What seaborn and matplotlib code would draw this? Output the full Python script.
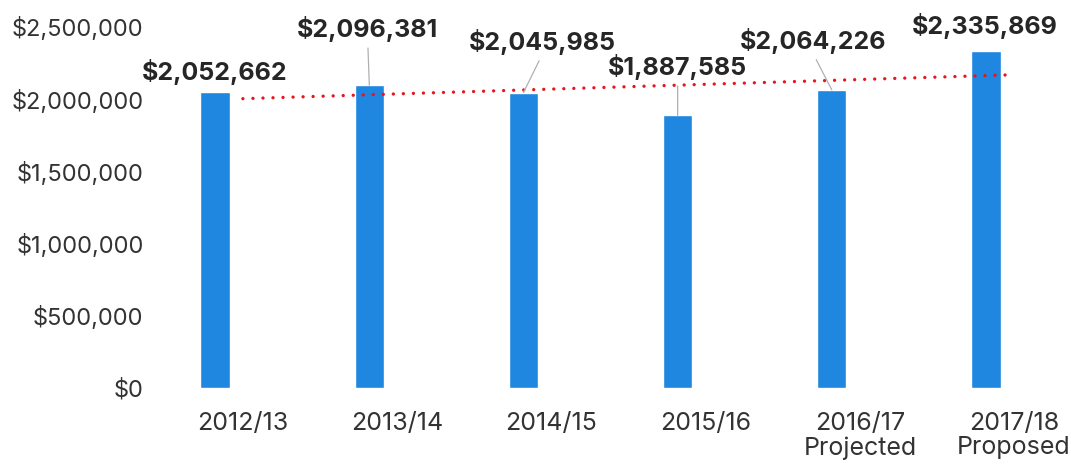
import numpy as np
import pandas as pd
import matplotlib
matplotlib.use("Agg")
import matplotlib.pyplot as plt
import matplotlib.transforms as mtransforms
import seaborn as sns

# Annual totals
years = ["2012/13", "2013/14", "2014/15", "2015/16", "2016/17\nProjected", "2017/18\nProposed"]
totals = [2052662, 2096381, 2045985, 1887585, 2064226, 2335869]
y_ticks = [0, 500000, 1000000, 1500000, 2000000, 2500000]

# Label placement: (x offset in category units, y position in data units), leader on/off
label_dx = [0.0, -0.01, 0.12, 0.0, -0.12, -0.01]
label_y = [2188000, 2486000, 2396000, 2223000, 2403000, 2507000]
leader = [False, True, True, True, True, False]

sns.set_theme(style="white")
plt.rcParams["font.family"] = ["Inter", "DejaVu Sans"]

df = pd.DataFrame({"year": years, "total": totals})

fig = plt.figure(figsize=(10.71, 4.66), dpi=100)
ax = fig.add_axes([0.1289, 0.1674, 0.8637, 0.7747])

sns.barplot(data=df, x="year", y="total", color="#1f87e0", saturation=1,
            width=0.19, ax=ax, zorder=2)

# Linear trend through the yearly totals
xs = np.arange(len(totals))
slope, intercept = np.polyfit(xs, totals, 1)
tx = np.array([0.18, 5.16])
ax.plot(tx, slope * tx + intercept, color="#e8141e", lw=2.4,
        linestyle=(0, (0.01, 3.0)), dash_capstyle="round", zorder=3)

# Value labels with leader lines
for i, v in enumerate(totals):
    kw = dict(fontsize=18, fontweight="bold", color="#262626",
              ha="center", va="center", zorder=4)
    if leader[i]:
        ax.annotate(f"${v:,.0f}", xy=(i, v), xytext=(i + label_dx[i], label_y[i]),
                    arrowprops=dict(arrowstyle="-", color="#b0b0b0", lw=0.9,
                                    shrinkA=2, shrinkB=0, relpos=(0.5, 0)),
                    **kw)
    else:
        ax.text(i + label_dx[i], label_y[i], f"${v:,.0f}", **kw)

ax.set_xlim(-0.5, 5.5)
ax.set_ylim(0, 2500000)
ax.set_yticks(y_ticks)
ax.set_yticklabels([f"${t:,.0f}" for t in y_ticks])
ax.set_xlabel("")
ax.set_ylabel("")
ax.tick_params(axis="y", labelsize=17, labelcolor="#333333", length=0, pad=-4)
ax.tick_params(axis="x", labelsize=18, labelcolor="#333333", length=0, pad=17)

# Category labels sit slightly to the right of their bars
shift = mtransforms.ScaledTranslation(0.28, 0, fig.dpi_scale_trans)
for lbl in ax.get_xticklabels():
    lbl.set_linespacing(1.1)
    lbl.set_transform(lbl.get_transform() + shift)

for s in ax.spines.values():
    s.set_visible(False)
ax.grid(False)

fig.savefig("out.png", dpi=100, facecolor="white")
